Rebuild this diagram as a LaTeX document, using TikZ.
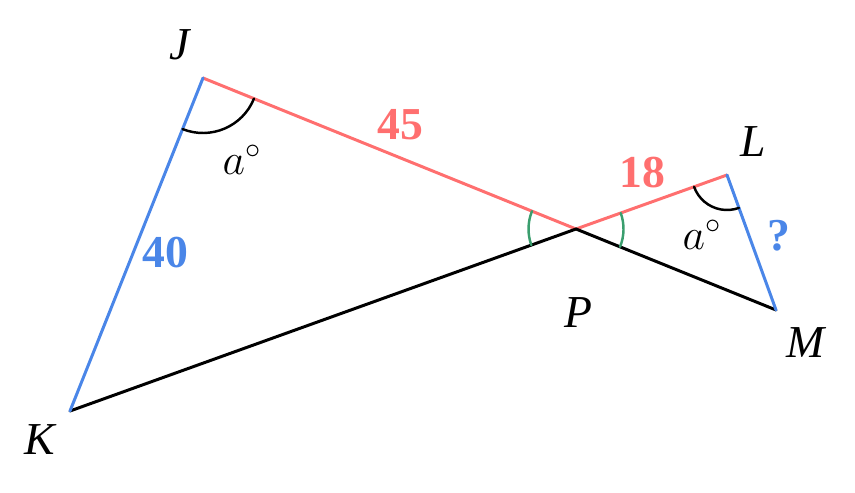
\documentclass[tikz,border=0pt]{standalone}
\usepackage{fontspec}
\setmainfont{Liberation Serif}
\usetikzlibrary{angles}
\begin{document}
\begin{tikzpicture}
[line cap=round,
% Styles
side/.style={line width=1.7pt},
vertex label/.style={font=\fontsize{26}{30}\selectfont\itshape},
length label/.style={font=\fontsize{26}{30}\selectfont\bfseries},
angle arc/.style={line width=1.4pt,draw=black}]
% Colors
\definecolor{redside}{HTML}{FF6F6F}
\definecolor{blueside}{HTML}{4A86E8}
\definecolor{anglegreen}{HTML}{3A9E6E}
\useasboundingbox (0,0) rectangle (17.1,9.84);

% Points
\coordinate (J) at (4.06,8.28);
\coordinate (K) at (1.40,1.62);
\coordinate (P) at (11.52,5.26);
\coordinate (L) at (14.54,6.34);
\coordinate (M) at (15.52,3.64);

% Sides
\draw[side,redside] (J) -- (P) -- (L);
\draw[side] (K) -- (P) -- (M);
\draw[side,blueside] (J) -- (K);
\draw[side,blueside] (L) -- (M);

% Angles
\pic[angle arc,angle radius=1.1cm] {angle=K--J--P};
\pic[angle arc,angle radius=0.7cm] {angle=P--L--M};
\pic[angle arc,draw=anglegreen,angle radius=0.95cm] {angle=J--P--K};
\pic[angle arc,draw=anglegreen,angle radius=0.95cm] {angle=M--P--L};

% Labels
\node[vertex label] (Jlab) at (3.6,8.94) {J};
\node[vertex label] (Klab) at (0.8,1.04) {K};
\node[vertex label] (Plab) at (11.56,3.58) {P};
\node[vertex label] (Llab) at (15.06,7.00) {L};
\node[vertex label] (Mlab) at (16.12,2.98) {M};
\node[length label,redside] (JP) at (8.0,7.34) {45};
\node[length label,redside] (PL) at (12.84,6.38) {18};
\node[length label,blueside] (JK) at (3.3,4.78) {40};
\node[length label,blueside] (LM) at (15.58,5.12) {?};
\node[font=\fontsize{26}{30}\selectfont] (aJ) at (4.84,6.64) {$a^\circ$};
\node[font=\fontsize{26}{30}\selectfont] (aL) at (14.04,5.14) {$a^\circ$};
\end{tikzpicture}
\end{document}
